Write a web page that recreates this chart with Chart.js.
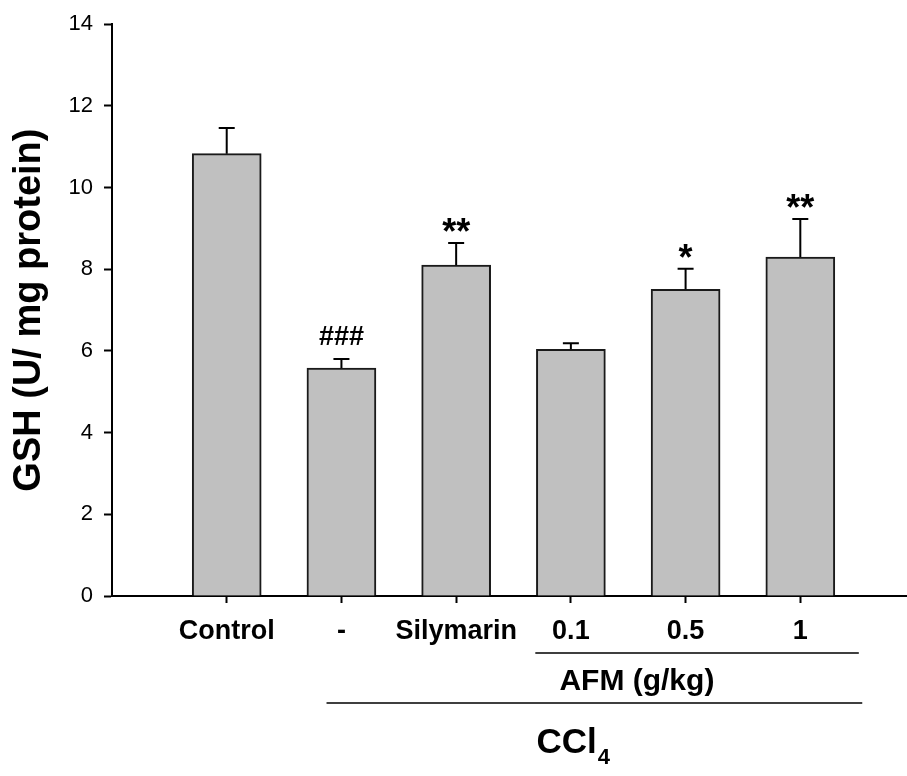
<!DOCTYPE html>
<html>
<head>
<meta charset="utf-8">
<script src="https://cdn.jsdelivr.net/npm/chart.js@4.4.1/dist/chart.umd.min.js"></script>
<style>
  html, body { margin: 0; padding: 0; background: #fff; }
  canvas { display: block; }
</style>
</head>
<body>
<canvas id="gshchart" width="907" height="776"></canvas>
<script>
// group names along the x axis
const groups = ['Control', '-', 'Silymarin', '0.1', '0.5', '1'];
// mean GSH and upper SEM for each group
const gshMean = [10.83, 5.58, 8.10, 6.04, 7.51, 8.30];
const gshErr = [0.63, 0.22, 0.54, 0.15, 0.50, 0.93];
// significance marks over the error bars
const sigMarks = ['', '###', '**', '', '*', '**'];
const yTicks = [0, 2, 4, 6, 8, 10, 12, 14];

const FONT = '"Liberation Sans", Arial, Helvetica, sans-serif';

// error bars (upper only) + significance marks
const errorBars = {
    id: 'errorBars',
    afterDatasetsDraw(chart) {
        const ctx = chart.ctx;
        const xs = chart.scales.x, ys = chart.scales.y;
        ctx.save();
        ctx.strokeStyle = '#000';
        ctx.lineWidth = 2;
        gshMean.forEach((m, i) => {
            const x = xs.getPixelForValue(i + 1);
            const y0 = ys.getPixelForValue(m);
            const y1 = ys.getPixelForValue(m + gshErr[i]);
            ctx.beginPath();
            ctx.moveTo(x, y0);
            ctx.lineTo(x, y1);
            ctx.moveTo(x - 8, y1);
            ctx.lineTo(x + 8, y1);
            ctx.stroke();

            const mark = sigMarks[i];
            if (!mark) return;
            const isHash = mark.indexOf('#') >= 0;
            ctx.font = 'bold ' + (isHash ? 27 : 36) + 'px ' + FONT;
            ctx.fillStyle = '#000';
            ctx.textAlign = 'center';
            ctx.textBaseline = 'alphabetic';
            const tm = ctx.measureText(mark);
            const gap = isHash ? 14 : 11;
            ctx.fillText(mark, x, y1 - gap - tm.actualBoundingBoxDescent);
        });
        ctx.restore();
    }
};

// treatment group brackets under the x axis
const groupLabels = {
    id: 'groupLabels',
    afterDraw(chart) {
        const ctx = chart.ctx;
        const xs = chart.scales.x;
        ctx.save();
        ctx.strokeStyle = '#000';
        ctx.lineWidth = 1.5;
        ctx.beginPath();
        ctx.moveTo(xs.getPixelForValue(3.69), 653);
        ctx.lineTo(xs.getPixelForValue(6.51), 653);
        ctx.moveTo(xs.getPixelForValue(1.87), 703);
        ctx.lineTo(xs.getPixelForValue(6.54), 703);
        ctx.stroke();

        ctx.fillStyle = '#000';
        ctx.textBaseline = 'alphabetic';
        ctx.textAlign = 'left';
        ctx.font = 'bold 30px ' + FONT;
        ctx.fillText('AFM (g/kg)', xs.getPixelForValue(3.90), 690);

        ctx.font = 'bold 35px ' + FONT;
        const cx = xs.getPixelForValue(3.70);
        ctx.fillText('CCl', cx, 753);
        const w = ctx.measureText('CCl').width;
        ctx.font = 'bold 22px ' + FONT;
        ctx.fillText('4', cx + w + 1, 764);
        ctx.restore();
    }
};

const ctx = document.getElementById('gshchart').getContext('2d');
const gshChart = new Chart(ctx, {
    type: 'bar',
    data: {
        datasets: [{
            label: 'GSH',
            data: groups.map((g, i) => ({ x: i + 1, y: gshMean[i] })),
            backgroundColor: '#c0c0c0',
            borderColor: '#1a1a1a',
            borderWidth: 2,
            borderSkipped: 'start',
            barThickness: 69
        }]
    },
    options: {
        responsive: false,
        animation: false,
        layout: { padding: { top: 19, right: 0, bottom: 0, left: 0 } },
        plugins: {
            legend: { display: false },
            tooltip: { enabled: false }
        },
        scales: {
            x: {
                type: 'linear',
                offset: false,
                min: 0,
                max: 6.93,
                afterBuildTicks: (scale) => {
                    scale.ticks = groups.map((g, i) => ({ value: i + 1 }));
                },
                afterFit: (scale) => { scale.height = 180; },
                grid: {
                    offset: false,
                    drawOnChartArea: false,
                    drawTicks: true,
                    tickLength: 7,
                    tickWidth: 2,
                    tickColor: '#000'
                },
                border: { display: true, color: '#000', width: 2 },
                ticks: {
                    autoSkip: false,
                    maxRotation: 0,
                    padding: 12,
                    color: '#000',
                    font: { family: FONT, size: 27, weight: 'bold' },
                    callback: (v) => groups[v - 1]
                }
            },
            y: {
                min: 0,
                max: 14,
                afterBuildTicks: (scale) => {
                    scale.ticks = yTicks.map(v => ({ value: v }));
                },
                afterFit: (scale) => { scale.width = 112; },
                grid: {
                    drawOnChartArea: false,
                    drawTicks: true,
                    tickLength: 8,
                    tickWidth: 2,
                    tickColor: '#000'
                },
                border: { display: true, color: '#000', width: 2 },
                ticks: {
                    padding: 11,
                    color: '#000',
                    font: { family: FONT, size: 22 }
                },
                title: {
                    display: true,
                    text: 'GSH (U/ mg protein)',
                    color: '#000',
                    font: { family: FONT, size: 38, weight: 'bold' },
                    padding: { top: 7, bottom: 0 }
                }
            }
        }
    },
    plugins: [errorBars, groupLabels]
});
</script>
</body>
</html>
